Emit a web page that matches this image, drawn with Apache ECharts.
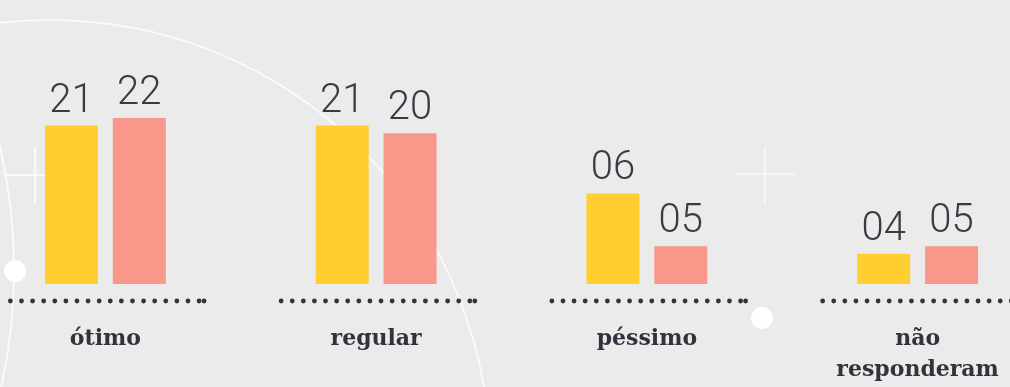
<!DOCTYPE html>
<html>
<head>
<meta charset="utf-8">
<script src="https://cdn.jsdelivr.net/npm/echarts@6/dist/echarts.min.js"></script>
<style>
html,body{margin:0;padding:0;background:#ebebeb;}
#chart{width:1010px;height:387px;}
</style>
</head>
<body>
<div id="chart"></div>
<script>
// Categories
const categories = ['ótimo', 'regular', 'péssimo', 'não\nresponderam'];
// Bar heights as drawn in the picture (the "06" bar is drawn about twice as tall as its label)
const seriesYellow = [21, 21, 12, 4];
const seriesSalmon = [22, 20, 5, 5];
// Value labels as printed
const labelsYellow = ['21', '21', '06', '04'];
const labelsSalmon = ['22', '20', '05', '05'];

const chart = echarts.init(document.getElementById('chart'));

const valueLabel = (arr) => ({
  show: true,
  position: 'top',
  distance: 4,
  fontFamily: 'Roboto',
  fontWeight: 300,
  fontSize: 40,
  lineHeight: 40,
  color: '#3a3a44',
  formatter: (p) => arr[p.dataIndex]
});

const deco = 'rgba(255,255,255,0.75)';

chart.setOption({
  backgroundColor: '#ebebeb',
  animation: false,
  graphic: [
    { type: 'circle', z: 0, silent: true, shape: { cx: 50, cy: 460, r: 440 }, style: { fill: 'none', stroke: deco, lineWidth: 2 } },
    { type: 'circle', z: 0, silent: true, shape: { cx: -527, cy: 270, r: 541 }, style: { fill: 'none', stroke: deco, lineWidth: 2 } },
    { type: 'line', z: 0, silent: true, shape: { x1: 35, y1: 147, x2: 35, y2: 203 }, style: { stroke: deco, lineWidth: 2 } },
    { type: 'line', z: 0, silent: true, shape: { x1: 5, y1: 175, x2: 62, y2: 175 }, style: { stroke: deco, lineWidth: 2 } },
    { type: 'line', z: 0, silent: true, shape: { x1: 765, y1: 147, x2: 765, y2: 203 }, style: { stroke: 'rgba(255,255,255,0.55)', lineWidth: 2 } },
    { type: 'line', z: 0, silent: true, shape: { x1: 735, y1: 174, x2: 795, y2: 174 }, style: { stroke: 'rgba(255,255,255,0.55)', lineWidth: 2 } },
    { type: 'circle', z: 0, silent: true, shape: { cx: 15, cy: 271, r: 11 }, style: { fill: '#ffffff' } },
    { type: 'circle', z: 0, silent: true, shape: { cx: 762, cy: 318, r: 11 }, style: { fill: '#ffffff' } }
  ],
  grid: { left: -30, width: 1083, top: 20, bottom: 103, containLabel: false, outerBoundsMode: 'none' },
  xAxis: {
    type: 'category',
    data: categories,
    axisLine: { show: false },
    axisTick: { show: false },
    splitLine: { show: false },
    axisLabel: {
      margin: 40,
      interval: 0,
      fontFamily: 'DejaVu Serif',
      fontWeight: 'bold',
      fontSize: 22,
      lineHeight: 31,
      color: '#33323c'
    }
  },
  yAxis: {
    type: 'value', min: 0, max: 35, show: false,
    splitLine: { show: false }
  },
  series: [
    {
      type: 'bar', name: 'a', data: seriesYellow, barWidth: 53, barGap: '28%',
      itemStyle: { color: '#fecf2f' }, label: valueLabel(labelsYellow), z: 3
    },
    {
      type: 'bar', name: 'b', data: seriesSalmon, barWidth: 53, barGap: '28%',
      itemStyle: { color: '#f9978b' }, label: valueLabel(labelsSalmon), z: 3
    },
    {
      type: 'custom', name: 'dots', z: 3, silent: true,
      data: categories.map((c, i) => [i]),
      encode: { x: 0 },
      renderItem: (params, api) => {
        const c = api.coord([api.value(0), 0]);
        const y = c[1] + 17;
        const start = c[0] - 95;
        const step = 11.1;
        const children = [];
        for (let k = 0; k < 18; k++) {
          children.push({ type: 'circle', shape: { cx: start + k * step, cy: y, r: 2.4 }, style: { fill: '#34333d' } });
        }
        children.push({ type: 'circle', shape: { cx: start + 17 * step + 5, cy: y, r: 2.4 }, style: { fill: '#34333d' } });
        return { type: 'group', children };
      }
    }
  ]
});
</script>
</body>
</html>
